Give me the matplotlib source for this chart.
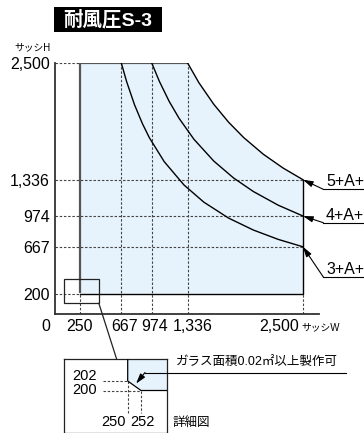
import matplotlib
matplotlib.use("Agg")
import matplotlib.pyplot as plt
from matplotlib.patches import Rectangle, Polygon, ConnectionPatch
from matplotlib.lines import Line2D

plt.rcParams['font.family'] = ['Liberation Sans', 'Noto Sans CJK JP']

# ── data ─────────────────────────────────────────────────────────────────────
X_TICKS = [0, 250, 667, 974, 1336, 2500]
X_LABELS = ['0', '250', '667', '974', '1,336', '2,500']
Y_TICKS = [200, 667, 974, 1336, 2500]
Y_LABELS = ['200', '667', '974', '1,336', '2,500']

# limit curves (sash W, sash H)
W_5A = [1336, 1450, 1600, 1750, 1900, 2100, 2300, 2500]
H_5A = [2500, 2303, 2088, 1909, 1758, 1590, 1452, 1336]
W_4A = [974, 1050, 1150, 1250, 1400, 1600, 1800, 2000, 2250, 2500]
H_4A = [2500, 2319, 2117, 1948, 1739, 1522, 1353, 1218, 1082, 974]
W_3A = [667, 720, 800, 880, 950, 1100, 1300, 1500, 1750, 2000, 2250, 2500]
H_3A = [2500, 2316, 2084, 1895, 1755, 1516, 1283, 1112, 953, 834, 741, 667]
CURVE_LABELS = ['5+A+', '4+A+', '3+A+']

# region limits
W_MIN, W_MAX = 250, 2500
H_MIN, H_MAX = 200, 2500
# corner cut (detail view)
CORNER_W = [250, 252]
CORNER_H = [202, 200]
DETAIL_NOTE = 'ガラス面積0.02㎡以上製作可'

# ── figure helpers ───────────────────────────────────────────────────────────
FW, FH = 364, 433
fig = plt.figure(figsize=(FW / 100, FH / 100), dpi=100)


def fpx(x, y):
    """pixel (from top-left) -> figure fraction"""
    return x / FW, 1 - y / FH


def fpix(x, y):
    """pixel (from top-left) -> figure pixels"""
    return x, FH - y


FILL = '#e6f3fc'
DASH = dict(color='#444444', lw=0.8, ls=(0, (2.2, 1.6)))

# ── main axes ────────────────────────────────────────────────────────────────
x_px0, y_px0 = 55.2, 313.7
sx, sy = 0.0991, 0.1003
xmax = 2664
ax = fig.add_axes([x_px0 / FW, (FH - y_px0) / FH, xmax * sx / FW, 2500 * sy / FH])
ax.set_xlim(0, xmax)
ax.set_ylim(0, 2500)
for s in ['top', 'right']:
    ax.spines[s].set_visible(False)
for s in ['left', 'bottom']:
    ax.spines[s].set_color('#333333')
    ax.spines[s].set_linewidth(1.3)
ax.set_xticks([])
ax.set_yticks(Y_TICKS, Y_LABELS, fontsize=11.5)
ax.tick_params(axis='y', length=0, pad=4)
ax.patch.set_alpha(0)

# region fill
poly = ([(W_MIN, H_MAX)] + list(zip(W_5A, H_5A)) + [(W_MAX, H_MIN)]
        + [(CORNER_W[1], CORNER_H[1]), (CORNER_W[0], CORNER_H[0])])
ax.add_patch(Polygon(poly, closed=True, facecolor=FILL, edgecolor='none', zorder=1))

# dashed reference lines
ax.plot([0, W_MIN], [H_MAX, H_MAX], **DASH, zorder=2)
ax.plot([0, W_MIN], [H_MIN, H_MIN], **DASH, zorder=2)
for h in [H_5A[-1], H_4A[-1], H_3A[-1]]:
    ax.plot([0, W_MAX], [h, h], **DASH, zorder=2)
for w in [W_MIN, W_MAX]:
    ax.plot([w, w], [0, H_MIN], **DASH, zorder=2)
for w in [W_3A[0], W_4A[0], W_5A[0]]:
    ax.plot([w, w], [0, H_MAX], **DASH, zorder=2)

# region edges
ax.plot([W_MIN, W_MIN, W_5A[0]], [CORNER_H[0], H_MAX, H_MAX], color='#555555', lw=1.6, zorder=3,
        solid_capstyle='butt')
ax.plot([W_MAX, W_MAX, CORNER_W[1]], [H_5A[-1], H_MIN, H_MIN], color='black', lw=1.0, zorder=3)

# curves
for W, H in [(W_5A, H_5A), (W_4A, H_4A), (W_3A, H_3A)]:
    ax.plot(W, H, color='black', lw=1.0, zorder=4)

# x tick labels (shifted a bit where crowded)
x_shift = [-9, 0, 3, 2.5, 5, -24]
for x, lab, dx in zip(X_TICKS, X_LABELS, x_shift):
    ax.annotate(lab, xy=(x, 0), xytext=(dx, -12.5), textcoords='offset pixels',
                ha='center', va='center', fontsize=11.5, annotation_clip=False)

fig.text(*fpx(301, 327.5), 'サッシW', fontsize=7, ha='left', va='center')
fig.text(*fpx(32.5, 47.5), 'サッシH', fontsize=7, ha='center', va='center')

# curve labels with leader arrows
arrow_kw = dict(arrowstyle='-|>,head_length=0.6,head_width=0.18', color='black', lw=0.8,
                shrinkA=0, shrinkB=0)
label_rows = [(189.3, 181.5), (222.7, 215), (277, 270)]
for lab, h, (uy, ty) in zip(CURVE_LABELS, [H_5A[-1], H_4A[-1], H_3A[-1]], label_rows):
    ax.annotate('', xy=(W_MAX, h), xytext=fpix(323.3, uy), textcoords='figure pixels',
                arrowprops=arrow_kw, annotation_clip=False, zorder=6)
    fig.add_artist(Line2D([323.3 / FW, 1.0], [1 - uy / FH] * 2, color='black', lw=0.8,
                          transform=fig.transFigure))
    fig.text(*fpx(326, ty), lab, fontsize=11.5, ha='left', va='center')

# marker rectangle around the corner
ax.add_patch(Rectangle((90, 105), 350, 241, fill=False, edgecolor='#222222', lw=0.9,
                       clip_on=False, zorder=5))

# ── title ────────────────────────────────────────────────────────────────────
l, b = fpx(54, 32)
fig.add_artist(Rectangle((l, b), 108 / FW, 25 / FH, transform=fig.transFigure,
                         facecolor='black', edgecolor='none'))
fig.text(*fpx(108, 20), '耐風圧S-3', color='white', fontsize=14, fontweight='bold',
         ha='center', va='center')

# ── detail inset ─────────────────────────────────────────────────────────────
ix0, ix1, iy0, iy1 = 64.3, 167.0, 359.3, 432.7
isx, isy = 6.65, 4.75          # px per unit
ref_x, ref_y = 127.7, 390.5    # pixel of (250, 200)
axi = fig.add_axes([ix0 / FW, (FH - iy1) / FH, (ix1 - ix0) / FW, (iy1 - iy0) / FH])
axi.set_xlim(250 + (ix0 - ref_x) / isx, 250 + (ix1 - ref_x) / isx)
axi.set_ylim(200 - (iy1 - ref_y) / isy, 200 + (ref_y - iy0) / isy)
axi.set_xticks([])
axi.set_yticks([])
for s in axi.spines.values():
    s.set_linewidth(0.9)
    s.set_color('#222222')

axi.add_patch(Polygon(poly, closed=True, facecolor=FILL, edgecolor='none', zorder=1))
axi.plot([W_MIN, CORNER_W[0], CORNER_W[1], W_MAX], [H_MAX, CORNER_H[0], CORNER_H[1], H_MIN],
         color='black', lw=0.9, zorder=3)
xl = 250 + (103 - ref_x) / isx
yb = 200 - (413 - ref_y) / isy
axi.plot([xl, CORNER_W[0]], [CORNER_H[0]] * 2, **DASH, zorder=2)
axi.plot([xl, CORNER_W[1]], [CORNER_H[1]] * 2, **DASH, zorder=2)
axi.plot([CORNER_W[0]] * 2, [CORNER_H[0], yb], **DASH, zorder=2)
axi.plot([CORNER_W[1]] * 2, [CORNER_H[1], yb], **DASH, zorder=2)

axi.annotate(str(CORNER_H[0]), xy=(xl, CORNER_H[0]), xytext=(-6, 5), textcoords='offset pixels',
             ha='right', va='center', fontsize=10.5)
axi.annotate(str(CORNER_H[1]), xy=(xl, CORNER_H[1]), xytext=(-6, 1), textcoords='offset pixels',
             ha='right', va='center', fontsize=10.5)
axi.annotate(str(CORNER_W[0]), xy=(CORNER_W[0], yb), xytext=(-2, -9.5), textcoords='offset pixels',
             ha='right', va='center', fontsize=10.5)
axi.annotate(str(CORNER_W[1]), xy=(CORNER_W[1], yb), xytext=(-11, -9.5), textcoords='offset pixels',
             ha='left', va='center', fontsize=10.5)

fig.text(*fpx(173, 423.5), '詳細図', fontsize=9, ha='left', va='center')

# note with arrow to the corner cut
axi.annotate('', xy=((CORNER_W[0] + CORNER_W[1]) / 2, (CORNER_H[0] + CORNER_H[1]) / 2),
             xytext=fpix(145, 372.5), textcoords='figure pixels',
             arrowprops=dict(arrowstyle='-|>,head_length=0.6,head_width=0.18', color='black',
                             lw=0.8, shrinkA=0, shrinkB=2), annotation_clip=False, zorder=6)
fig.add_artist(Line2D([145 / FW, 346 / FW], [1 - 372.5 / FH] * 2, color='black', lw=0.8,
                      transform=fig.transFigure))
fig.text(*fpx(176, 363), DETAIL_NOTE, fontsize=9, ha='left', va='center')

# leader from marker rectangle to inset
con = ConnectionPatch(xyA=(440, 105), coordsA=ax.transData,
                      xyB=(250 + (116.7 - ref_x) / isx, 1), coordsB=axi.get_xaxis_transform(),
                      color='#222222', lw=0.9)
fig.add_artist(con)

fig.savefig('out.png', dpi=100)
